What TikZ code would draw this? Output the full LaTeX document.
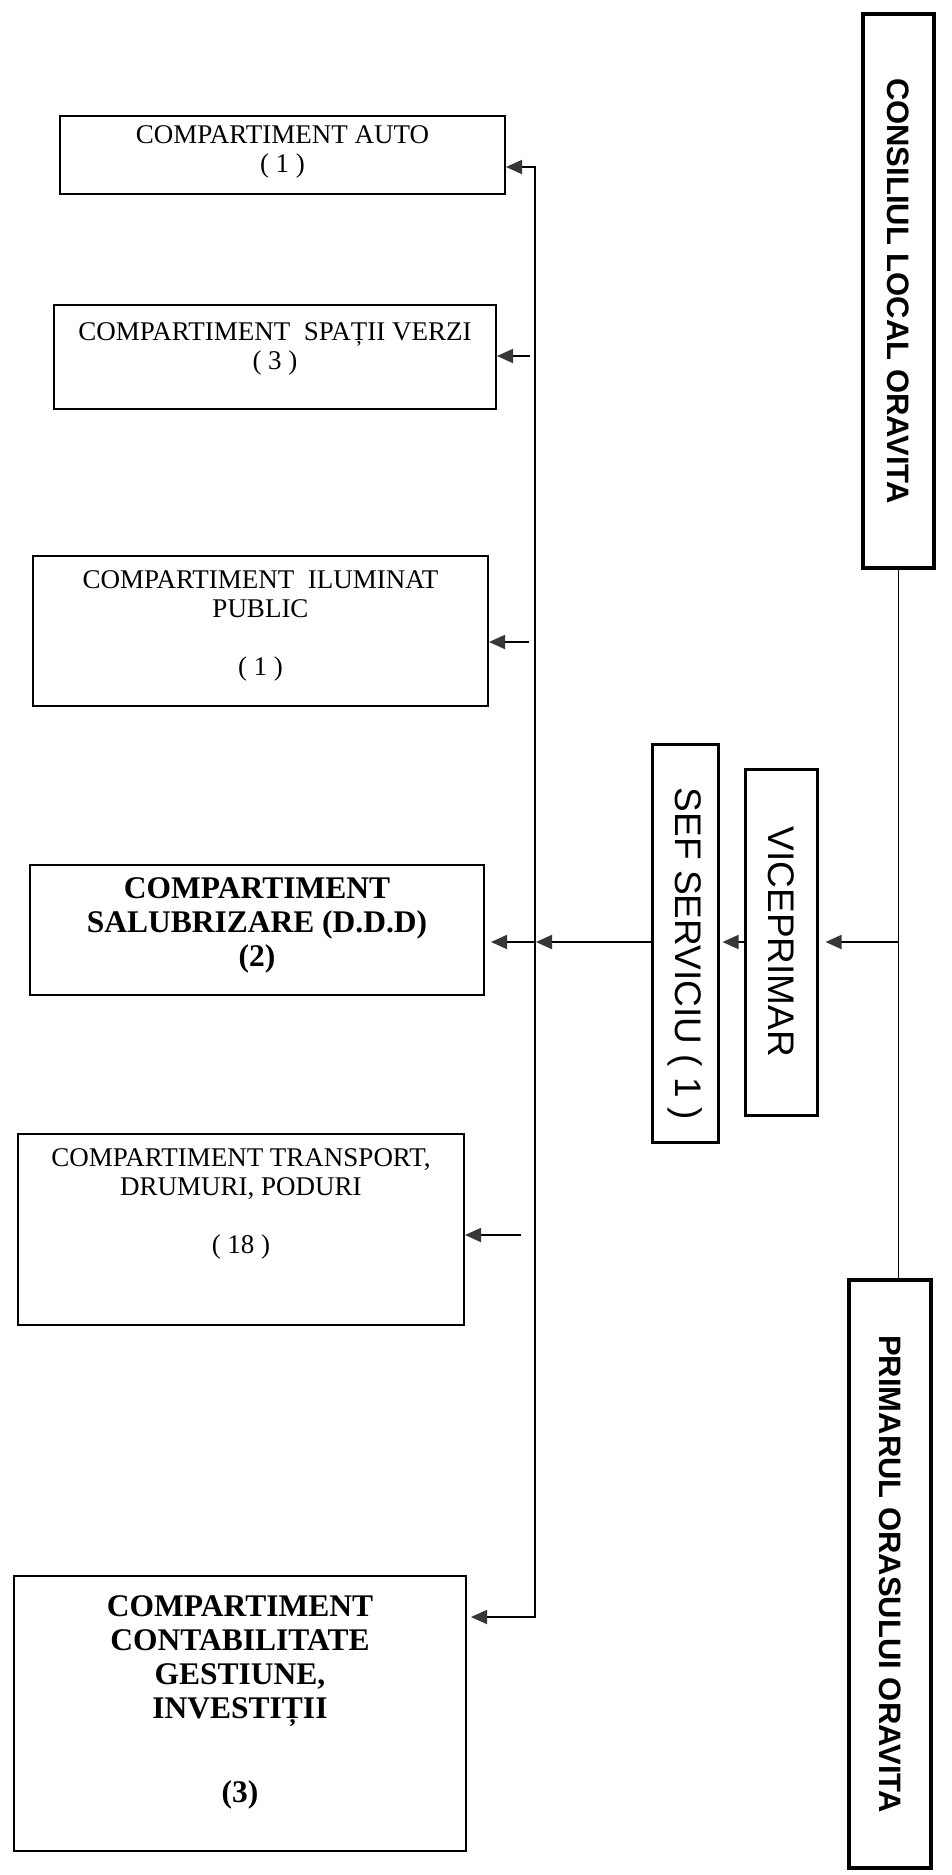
\documentclass[tikz,border=0pt]{standalone}
\usepackage{fontspec}
\setmainfont{Liberation Serif}
\setsansfont{Liberation Sans}
\usetikzlibrary{arrows.meta}
\definecolor{tipgray}{RGB}{55,55,55}
\newcommand\boxtext[2]{\raisebox{#1}[\height][\depth]{\begin{tabular}{@{}c@{}}#2\end{tabular}}}
\begin{document}
\begin{tikzpicture}[x=1pt,y=-1pt,
  comp/.style={draw, line width=2pt, inner sep=0pt, align=center, font=\fontsize{27}{29}\selectfont},
  compb/.style={comp, font=\fontsize{31.5}{34}\selectfont\bfseries},
  vtitle/.style={draw, line width=3.5pt, rotate=-90, inner sep=0pt, font=\sffamily\bfseries\fontsize{31}{36}\selectfont},
  vrole/.style={draw, line width=3pt, rotate=-90, inner sep=0pt, font=\sffamily\fontsize{37}{42}\selectfont},
  conn/.style={line width=1.8pt},
  arr/.style={conn, -{Triangle[length=16pt,width=14pt,fill=tipgray,color=tipgray]}},
  arrb/.style={conn, {Triangle[length=16pt,width=14pt,fill=tipgray,color=tipgray]}-{Triangle[length=16pt,width=14pt,fill=tipgray,color=tipgray]}}
]
\useasboundingbox (0,0) rectangle (952,1875);
\fill[white] (0,0) rectangle (952,1875);

% right column
\node[vtitle, minimum width=554pt, minimum height=71pt] (cons) at (898.5,291) {CONSILIUL LOCAL ORAVITA};
\node[vtitle, minimum width=588pt, minimum height=82pt] (prim) at (890,1574) {PRIMARUL ORASULUI ORAVITA};
\node[vrole, minimum width=346pt, minimum height=72pt] (vice) at (781,942) {VICEPRIMAR\hspace{34pt}};
\node[vrole, minimum width=398pt, minimum height=66pt] (sef) at (685,943) {\hspace{22pt}SEF SERVICIU ( 1 )};

% compartments
\node[comp, minimum width=445pt, minimum height=78pt] (auto) at (282.5,155)
  {\boxtext{3pt}{COMPARTIMENT AUTO\\( 1 )}};
\node[comp, minimum width=442pt, minimum height=104pt] (spatii) at (275,357)
  {\boxtext{8pt}{COMPARTIMENT\ \ SPAȚII VERZI\\( 3 )}};
\node[comp, minimum width=455pt, minimum height=150pt] (ilum) at (260.5,631)
  {\boxtext{5pt}{COMPARTIMENT\ \ ILUMINAT\\PUBLIC\\[29pt]( 1 )}};
\node[compb, minimum width=454pt, minimum height=130pt] (salub) at (257,930)
  {\boxtext{4pt}{COMPARTIMENT\\SALUBRIZARE (D.D.D)\\(2)}};
\node[comp, minimum width=446pt, minimum height=191pt] (transp) at (241,1229.5)
  {\boxtext{25pt}{COMPARTIMENT TRANSPORT,\\DRUMURI, PODURI\\[29pt]( 18 )}};
\node[compb, minimum width=452pt, minimum height=275pt] (contab) at (240,1713.5)
  {\boxtext{11pt}{COMPARTIMENT\\CONTABILITATE\\GESTIUNE,\\INVESTIȚII\\[50pt](3)}};

% bus coordinates
\coordinate (bt) at (535,167);
\coordinate (bb) at (535,1617);
\coordinate (bs) at (535,942);
\coordinate (b1) at (535,356);
\coordinate (b2) at (535,642);
\coordinate (b3) at (535,1235);

% main vertical line
\draw[conn] (cons.east) -- (cons.east |- prim.west);
\draw[arr, shorten >=7pt] (cons.east |- vice.north) -- (vice.north);
\draw[arr, shorten >=3pt] (vice.south) -- (vice.south -| sef.north);
\draw[arr, shorten >=1pt] (bs -| sef.south) -- (bs);
\draw[arr, shorten >=6pt] (bs) -- (bs -| salub.east);

% bus
\draw[arrb, shorten >=4pt] (bt -| auto.east) -- (bt) -- (bb) -- (bb -| contab.east);
\draw[arr, shorten <=5pt] (b1) -- (b1 -| spatii.east);
\draw[arr, shorten <=6pt] (b2) -- (b2 -| ilum.east);
\draw[arr, shorten <=14pt] (b3) -- (b3 -| transp.east);
\end{tikzpicture}
\end{document}
